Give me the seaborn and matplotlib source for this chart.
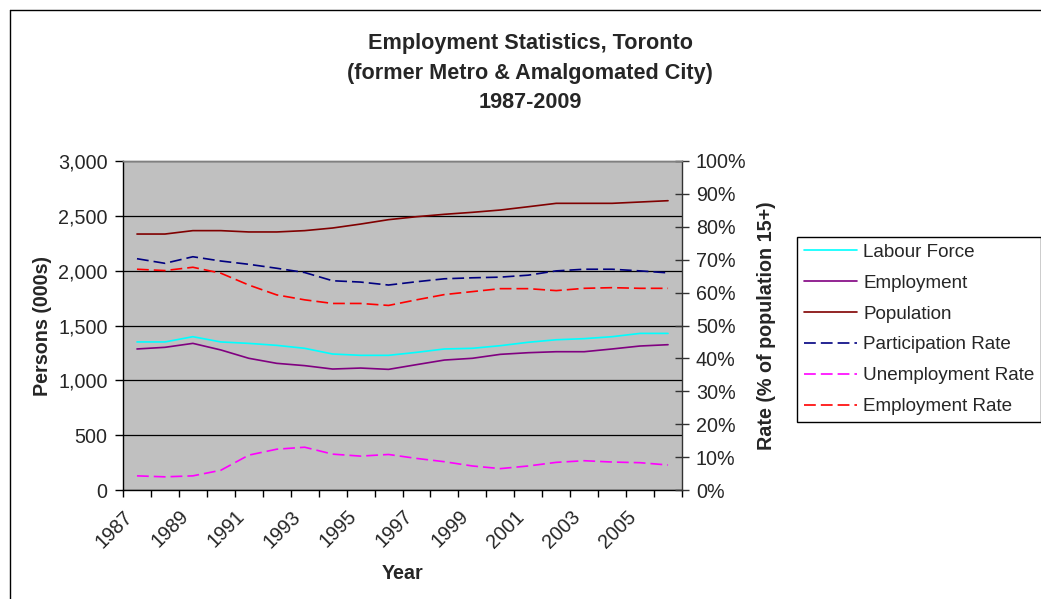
import numpy as np
import pandas as pd
import matplotlib
matplotlib.use("Agg")
import matplotlib.pyplot as plt
import matplotlib.transforms as mtransforms
import seaborn as sns
from matplotlib.ticker import FuncFormatter, FixedLocator, PercentFormatter
from matplotlib.lines import Line2D

# ---- data ----
years = list(range(1987, 2007))
labour_force = [1350, 1350, 1398, 1350, 1337, 1319, 1292, 1240, 1228, 1228,
                1255, 1286, 1292, 1316, 1347, 1370, 1380, 1398, 1428, 1428]
employment = [1286, 1301, 1337, 1277, 1201, 1155, 1134, 1103, 1112, 1100,
              1143, 1185, 1201, 1237, 1252, 1261, 1261, 1286, 1313, 1325]
population = [2334, 2334, 2365, 2365, 2353, 2353, 2365, 2389, 2425, 2465,
              2492, 2514, 2532, 2553, 2583, 2614, 2614, 2614, 2626, 2638]
participation_rate = [70.3, 68.9, 70.9, 69.6, 68.6, 67.4, 66.1, 63.6, 63.2, 62.3,
                      63.3, 64.2, 64.5, 64.7, 65.3, 66.6, 67.1, 67.1, 66.6, 66.0]
unemployment_rate = [4.3, 4.0, 4.3, 6.0, 10.6, 12.4, 13.0, 10.9, 10.3, 10.8,
                     9.6, 8.6, 7.3, 6.5, 7.3, 8.4, 8.9, 8.5, 8.3, 7.6]
employment_rate = [67.1, 66.7, 67.7, 65.9, 62.3, 59.3, 57.8, 56.7, 56.7, 56.1,
                   57.8, 59.4, 60.3, 61.2, 61.2, 60.6, 61.3, 61.5, 61.3, 61.3]
tick_years = [1987, 1989, 1991, 1993, 1995, 1997, 1999, 2001, 2003, 2005]

title = "Employment Statistics, Toronto\n(former Metro & Amalgomated City)\n1987-2009"

df = pd.DataFrame({
    "Year": years,
    "Labour Force": labour_force,
    "Employment": employment,
    "Population": population,
    "Participation Rate": np.array(participation_rate) / 100,
    "Unemployment Rate": np.array(unemployment_rate) / 100,
    "Employment Rate": np.array(employment_rate) / 100,
})

# ---- style ----
sns.set_style("white")
plt.rcParams['font.family'] = ['Liberation Sans', 'DejaVu Sans']
plt.rcParams['lines.scale_dashes'] = False
FS = 14.2
LFS = 13.6
TFS = 15.6

W, H = 1041, 599
fig = plt.figure(figsize=(W / 100, H / 100), dpi=100)
L, R, T, B = 123, 682, 161, 490
ax = fig.add_axes([L / W, 1 - B / H, (R - L) / W, (B - T) / H])
ax2 = ax.twinx()
ax.set_facecolor('#C0C0C0')

lw = 1.2
dash = (0, (8.5, 3.6))
sns.lineplot(data=df, x="Year", y="Labour Force", ax=ax, color='#00FFFF', lw=lw,
             label="Labour Force", legend=False)
sns.lineplot(data=df, x="Year", y="Employment", ax=ax, color='#800080', lw=lw,
             label="Employment", legend=False)
sns.lineplot(data=df, x="Year", y="Population", ax=ax, color='#800000', lw=lw,
             label="Population", legend=False)
sns.lineplot(data=df, x="Year", y="Participation Rate", ax=ax2, color='#000080', lw=lw,
             linestyle=dash, label="Participation Rate", legend=False)
sns.lineplot(data=df, x="Year", y="Unemployment Rate", ax=ax2, color='#FF00FF', lw=lw,
             linestyle=dash, label="Unemployment Rate", legend=False)
sns.lineplot(data=df, x="Year", y="Employment Rate", ax=ax2, color='#FF0000', lw=lw,
             linestyle=dash, label="Employment Rate", legend=False)

# ---- x axis ----
ax.set_xlim(years[0] - 0.5, years[-1] + 0.5)
ax.xaxis.set_major_locator(FixedLocator(tick_years))
ax.set_xticklabels([str(y) for y in tick_years])
ax.xaxis.set_minor_locator(FixedLocator([y - 0.5 for y in years] + [years[-1] + 0.5]))
ax.tick_params(axis='x', which='major', length=0, pad=17, labelsize=FS)
ax.tick_params(axis='x', which='minor', length=5, width=1, color='black', direction='out', bottom=True)
shift = mtransforms.ScaledTranslation(-7 / 100, 0, fig.dpi_scale_trans)
for lbl in ax.get_xticklabels():
    lbl.set_rotation(45)
    lbl.set_ha('right')
    lbl.set_va('center')
    lbl.set_rotation_mode('anchor')
    lbl.set_transform(lbl.get_transform() + shift)
ax.set_xlabel("Year", fontsize=FS, fontweight='bold')
ax.xaxis.set_label_coords(0.5, (B - 564) / (B - T))

# ---- left y axis ----
ax.set_ylim(0, 3000)
ax.yaxis.set_major_locator(FixedLocator(list(range(0, 3001, 500))))
ax.yaxis.set_major_formatter(FuncFormatter(lambda v, p: f"{v:,.0f}"))
ax.tick_params(axis='y', which='major', length=6, width=1, color='black', direction='out',
               left=True, pad=5, labelsize=FS)
ax.yaxis.grid(True, color='black', lw=0.9)
ax.xaxis.grid(False)
ax.set_ylabel("Persons (000s)", fontsize=FS, fontweight='bold')
ax.yaxis.set_label_coords((52 - L) / (R - L), 0.5)

# ---- right y axis ----
ax2.set_ylim(0, 1)
ax2.yaxis.set_major_locator(FixedLocator([i / 10 for i in range(11)]))
ax2.yaxis.set_major_formatter(PercentFormatter(1.0, decimals=0))
ax2.tick_params(axis='y', which='major', length=10, width=1, color='#333333', direction='inout',
                right=True, pad=5, labelsize=FS)
ax2.grid(False)
ax2.set_ylabel("Rate (% of population 15+)", fontsize=FS, fontweight='bold')
ax2.yaxis.set_label_coords((757 - L) / (R - L), 0.5)

# ---- spines ----
for a in (ax, ax2):
    for s in a.spines.values():
        s.set_linewidth(1)
ax.spines['left'].set_color('black')
ax.spines['bottom'].set_color('black')
ax.spines['top'].set_color('#808080')
ax.spines['right'].set_visible(False)
ax2.spines['left'].set_visible(False)
ax2.spines['bottom'].set_visible(False)
ax2.spines['top'].set_color('#808080')
ax2.spines['right'].set_color('#333333')

# ---- title ----
fig.suptitle(title, x=530 / W, y=1 - 33 / H, va='top', ha='center',
             fontsize=TFS, fontweight='bold', linespacing=1.54)

# ---- legend ----
h1, l1 = ax.get_legend_handles_labels()
h2, l2 = ax2.get_legend_handles_labels()
leg = ax2.legend(h1 + h2, l1 + l2, loc='upper left',
                 bbox_to_anchor=(797 / W, 1 - 237 / H), bbox_transform=fig.transFigure,
                 borderaxespad=0, fancybox=False, frameon=True, edgecolor='black',
                 fontsize=LFS, handlelength=2.8, handletextpad=0.35, labelspacing=0.72,
                 borderpad=0.36, framealpha=1)
leg.get_frame().set_linewidth(1)

# ---- chart area border ----
x0, y0 = 10 / W, 1 - 10 / H
fig.add_artist(Line2D([x0, x0], [0, y0], transform=fig.transFigure, color='black', lw=1))
fig.add_artist(Line2D([x0, 1], [y0, y0], transform=fig.transFigure, color='black', lw=1))

fig.savefig("out.png", dpi=100)
